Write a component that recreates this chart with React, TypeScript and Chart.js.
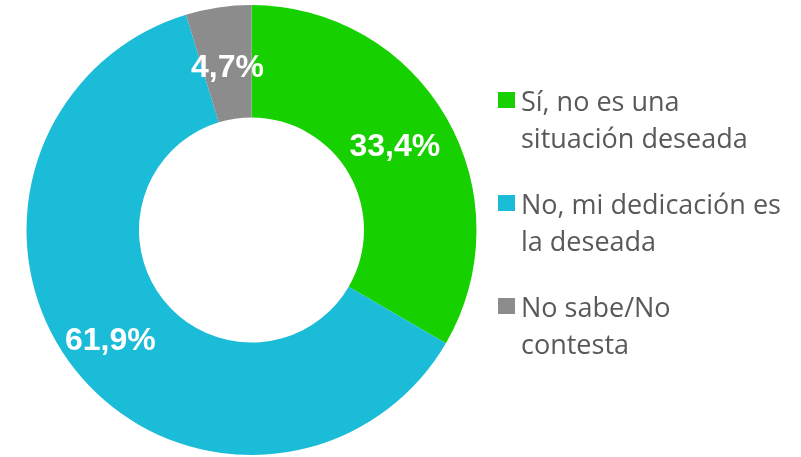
import React, { useEffect, useRef } from "react";
import { Chart, registerables } from "chart.js";

Chart.register(...registerables);

const categories: string[][] = [
  ["Sí, no es una", "situación deseada"],
  ["No, mi dedicación es", "la deseada"],
  ["No sabe/No", "contesta"],
];
const values: number[] = [33.4, 61.9, 4.7];
const valueLabels: string[] = ["33,4%", "61,9%", "4,7%"];
const colors: string[] = ["#17D000", "#1BBCD8", "#8C8C8C"];
const labelRadiusFraction: number[] = [0.47, 0.6, 0.45];

const overlayPlugin = {
  id: "overlay",
  afterDatasetsDraw(chart: any) {
    const ctx = chart.ctx;
    const meta = chart.getDatasetMeta(0);
    ctx.save();
    ctx.fillStyle = "#FFFFFF";
    ctx.font = "bold 32px 'Liberation Sans', Arial, sans-serif";
    ctx.textAlign = "center";
    ctx.textBaseline = "middle";
    meta.data.forEach((arc: any, i: number) => {
      const p = arc.getProps(["x", "y", "startAngle", "endAngle", "innerRadius", "outerRadius"], true);
      const mid = (p.startAngle + p.endAngle) / 2;
      const r = p.innerRadius + (p.outerRadius - p.innerRadius) * labelRadiusFraction[i];
      ctx.fillText(valueLabels[i], p.x + Math.cos(mid) * r, p.y + Math.sin(mid) * r);
    });
    // legend
    const lx = 498;
    const tx = 521;
    const y0 = 103;
    const itemGap = 103;
    const lineGap = 37;
    ctx.textAlign = "left";
    ctx.font = "27px 'Open Sans', sans-serif";
    categories.forEach((lines, i) => {
      const y = y0 + i * itemGap;
      ctx.fillStyle = colors[i];
      ctx.fillRect(lx, y - 11, 17, 16);
      ctx.fillStyle = "#595959";
      lines.forEach((ln, j) => ctx.fillText(ln, tx, y + j * lineGap));
    });
    ctx.restore();
  },
};

export default function App() {
  const ref = useRef<HTMLCanvasElement>(null);
  useEffect(() => {
    const chart = new Chart(ref.current!, {
      type: "doughnut",
      data: {
        labels: categories.map((c) => c.join(" ")),
        datasets: [
          {
            data: values,
            backgroundColor: colors,
            borderWidth: 0,
          },
        ],
      },
      options: {
        animation: false,
        responsive: false,
        cutout: "50%",
        layout: { padding: { left: 26, right: 324, top: 5, bottom: 2 } },
        plugins: { legend: { display: false }, tooltip: { enabled: false } },
      },
      plugins: [overlayPlugin],
    });
    return () => chart.destroy();
  }, []);
  return (
    <div style={{ position: "fixed", left: 0, top: 0, width: 801, height: 457, background: "#fff" }}>
      <canvas ref={ref} width={801} height={457} />
    </div>
  );
}
